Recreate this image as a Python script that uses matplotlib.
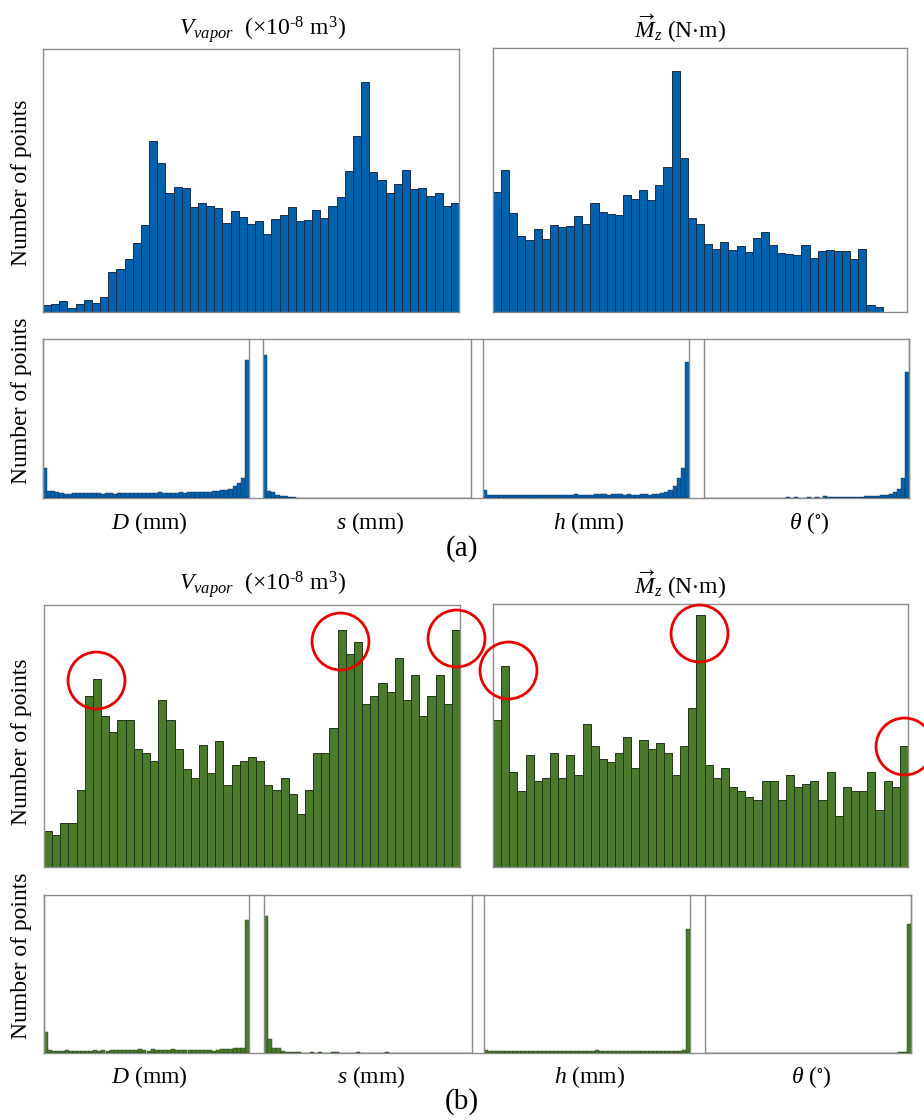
import matplotlib
matplotlib.use("Agg")
import matplotlib.pyplot as plt
import numpy as np

plt.rcParams['font.family'] = ['Liberation Serif', 'DejaVu Serif']
plt.rcParams['mathtext.fontset'] = 'custom'
plt.rcParams['mathtext.rm'] = 'Liberation Serif'
plt.rcParams['mathtext.it'] = 'Liberation Serif:italic'
plt.rcParams['mathtext.fallback'] = 'stix'

# histogram counts (relative units), 51 bins for outputs
vapor_a = [20, 24, 32, 13, 23, 37, 26, 46, 120, 130, 159, 205, 259, 513, 445, 355, 374,
           370, 313, 325, 318, 311, 266, 301, 285, 264, 271, 233, 278, 289, 313, 272, 275,
           306, 280, 318, 343, 421, 526, 688, 418, 396, 355, 384, 425, 368, 372, 347, 355,
           318, 325]
mz_a = [359, 426, 296, 227, 215, 249, 217, 259, 255, 258, 288, 262, 327, 300, 294, 291,
        351, 338, 365, 334, 379, 435, 720, 462, 281, 264, 202, 188, 210, 186, 198, 181,
        222, 238, 199, 177, 173, 170, 201, 162, 184, 187, 182, 184, 160, 190, 20, 15, 0, 0, 0]
vapor_b = [108, 97, 132, 132, 231, 513, 562, 453, 403, 439, 439, 354, 342, 317, 501, 439,
           354, 293, 267, 366, 280, 378, 244, 304, 317, 329, 317, 244, 231, 267, 219, 158,
           231, 342, 342, 415, 710, 636, 673, 489, 513, 550, 525, 624, 501, 574, 453, 513,
           574, 489, 710]
mz_b = [439, 600, 285, 228, 334, 258, 266, 342, 266, 334, 275, 429, 362, 323, 314, 342,
        390, 295, 380, 352, 371, 342, 275, 362, 477, 754, 304, 266, 295, 238, 228, 209,
        200, 257, 257, 200, 275, 238, 247, 257, 200, 285, 152, 238, 228, 228, 285, 171,
        257, 238, 362]

# 50 bins for the design variables
D_a = [91, 22, 20, 17, 14, 13, 13, 14, 14, 15, 15, 14, 15, 14, 13, 15, 14, 13, 14, 15,
       14, 15, 14, 15, 15, 16, 15, 16, 17, 16, 15, 16, 15, 17, 16, 17, 18, 18, 19, 19,
       18, 20, 22, 24, 25, 28, 35, 46, 59, 413]
s_a = [429, 22, 17, 10, 7, 5, 3, 2, 1, 1] + [0] * 40
h_a = [24, 10, 9, 10, 9, 8, 9, 9, 8, 9, 10, 9, 8, 9, 9, 10, 9, 9, 10, 9,
       10, 10, 11, 10, 9, 10, 10, 11, 12, 11, 10, 11, 12, 11, 10, 11, 10, 10, 11, 11,
       10, 12, 13, 15, 17, 25, 35, 60, 90, 408]
theta_a = [0] * 20 + [3, 0, 4, 0, 0, 2, 0, 4, 0, 5, 3, 2, 2, 3, 3, 3, 4, 4, 4, 5,
                      5, 6, 7, 8, 10, 12, 17, 28, 60, 379]
D_b = [63, 8, 6, 6, 5, 10, 6, 7, 7, 7, 6, 7, 8, 6, 10, 7, 9, 10, 10, 9,
       8, 8, 9, 12, 8, 7, 12, 8, 9, 10, 9, 11, 10, 9, 9, 8, 9, 9, 10, 8,
       8, 6, 9, 12, 13, 13, 14, 14, 14, 399]
s_b = [412, 41, 14, 15, 6, 4, 3, 2, 2, 0, 1, 2, 0, 3, 0, 0, 4, 2, 1, 0,
       0, 1, 3, 0, 0, 1, 0, 0, 0, 2] + [0] * 20
h_b = [10, 6, 5, 5, 5, 6, 5, 7, 5, 6, 6, 5, 5, 7, 6, 5, 6, 5, 6, 7,
       6, 5, 6, 6, 7, 6, 5, 8, 6, 5, 6, 6, 5, 6, 5, 6, 6, 5, 5, 6,
       6, 5, 6, 5, 7, 6, 6, 7, 8, 373]
theta_b = [0] * 12 + [1, 0, 0, 1, 0, 0, 1, 0, 0, 1, 0, 0, 0, 1, 0, 0, 1, 0,
                      0, 1, 0, 0, 0, 1, 0, 0, 1, 0, 0, 1, 0, 0, 1, 0, 2, 3, 387]

top_titles = [r'$V_{vapor}$  ($\times$10$^{\text{-8}}$ m$^3$)', r'$\overrightarrow{M}_z$ (N$\cdot$m)']
bottom_labels = [r'$D$ (mm)', r'$s$ (mm)', r'$h$ (mm)', r'$\theta$ ($^{\circ}$)']

# circled peaks in panel (b): (bin centre, height)
circles_vapor = [(6.4, 560), (36.3, 675), (50.5, 686)]
circles_mz = [(1.9, 590), (25.3, 701), (50.5, 363)]

W, H = 924, 1120
fig = plt.figure(figsize=(W / 100, H / 100), dpi=100)

BLUE, BLUE_EDGE = '#0062ad', '#1c2c48'
GREEN, GREEN_EDGE = '#4a7a2c', '#25361a'
SPINE = '#8c8c8c'


def px_axes(x0, y0, x1, y1):
    return fig.add_axes([x0 / W, 1 - y1 / H, (x1 - x0) / W, (y1 - y0) / H])


def hist_axes(ax, counts, ymax, color, edge, lw=0.7):
    n = len(counts)
    ax.bar(np.arange(n) + 0.5, counts, width=1.0, color=color, edgecolor=edge,
           linewidth=lw, align='center')
    ax.set_xlim(0, n)
    ax.set_ylim(0, ymax)
    ax.set_xticks([])
    ax.set_yticks([])
    for sp in ax.spines.values():
        sp.set_color(SPINE)
        sp.set_linewidth(1.0)


def figtext(x, y, s, size=17, **kw):
    fig.text(x / W, 1 - y / H, s, fontsize=size, ha='center', va='center', **kw)


panels = [
    dict(tops=[vapor_a, mz_a], bots=[D_a, s_a, h_a, theta_a], color=BLUE, edge=BLUE_EDGE,
         top_box=[(43, 49, 459, 312, 787), (493, 48, 907, 312, 790)],
         bot_y=(339, 498), bot_max=477,
         bot_x=[(43, 249), (263, 471), (483, 689), (704, 909)],
         title_y=[29, 29], title_x=[262, 680], xlab_y=523, tag='(a)', tag_y=549,
         ylab_y=[183, 401]),
    dict(tops=[vapor_b, mz_b], bots=[D_b, s_b, h_b, theta_b], color=GREEN, edge=GREEN_EDGE,
         top_box=[(44, 605, 460, 867, 784), (493, 604, 908, 867, 787)],
         bot_y=(895, 1053), bot_max=475,
         bot_x=[(44, 249), (264, 472), (484, 690), (705, 911)],
         title_y=[585, 585], title_x=[262, 680], xlab_y=1077, tag='(b)', tag_y=1102,
         ylab_y=[742, 956]),
]

for k, p in enumerate(panels):
    top_axes = []
    for counts, (x0, y0, x1, y1, ymax), tx, ty, title in zip(
            p['tops'], p['top_box'], p['title_x'], p['title_y'], top_titles):
        ax = px_axes(x0, y0, x1, y1)
        hist_axes(ax, counts, ymax, p['color'], p['edge'])
        top_axes.append(ax)
        figtext(tx, ty, title)

    # bottom row: one shared frame, four histograms separated by vertical lines
    y0, y1 = p['bot_y']
    frame = px_axes(p['bot_x'][0][0], y0, p['bot_x'][-1][1], y1)
    frame.set_xticks([])
    frame.set_yticks([])
    frame.patch.set_alpha(0)
    for name, sp in frame.spines.items():
        sp.set_color(SPINE)
        sp.set_linewidth(1.0)
    for counts, (x0, x1), lab in zip(p['bots'], p['bot_x'], bottom_labels):
        ax = px_axes(x0, y0, x1, y1)
        hist_axes(ax, counts, p['bot_max'], p['color'], p['edge'], lw=0.3)
        ax.spines['top'].set_visible(False)
        ax.spines['bottom'].set_visible(False)
        ax.patch.set_alpha(0)
        figtext((x0 + x1) / 2 + 3, p['xlab_y'], lab)
    figtext(22, p['ylab_y'][0], 'Number of points', rotation=90)
    figtext(22, p['ylab_y'][1], 'Number of points', rotation=90)
    figtext(462, p['tag_y'], p['tag'], size=21)

    if k == 1:
        for ax, circ in zip(top_axes, [circles_vapor, circles_mz]):
            cx = [c[0] for c in circ]
            cy = [c[1] for c in circ]
            ax.plot(cx, cy, 'o', ms=41, mfc='none', mec='#e60000', mew=2.0,
                    clip_on=False, zorder=5)

fig.savefig('out.png', dpi=100)
